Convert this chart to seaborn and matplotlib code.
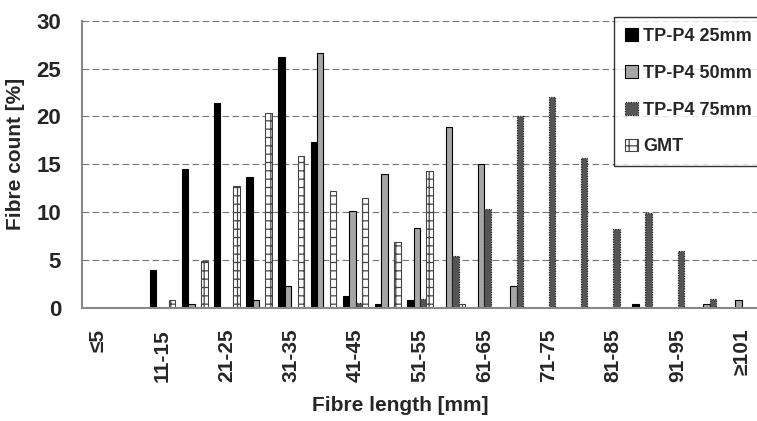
import pandas as pd
import matplotlib
matplotlib.use('Agg')
import matplotlib.pyplot as plt
import seaborn as sns
import numpy as np

# Fibre length classes and fibre counts [%]
categories = ['≤5', '6-10', '11-15', '16-20', '21-25', '26-30', '31-35', '36-40',
              '41-45', '46-50', '51-55', '56-60', '61-65', '66-70', '71-75',
              '76-80', '81-85', '86-90', '91-95', '96-100', '≥101']
series_names = ['TP-P4 25mm', 'TP-P4 50mm', 'TP-P4 75mm', 'GMT']

tp25 = [0, 0, 4.0, 14.5, 21.4, 13.7, 26.2, 17.3, 1.3, 0.4, 0.8, 0, 0, 0, 0, 0, 0, 0.4, 0, 0, 0]
tp50 = [0, 0, 0, 0.4, 0, 0.8, 2.3, 26.6, 10.1, 14.0, 8.4, 18.9, 15.0, 2.3, 0, 0, 0, 0, 0, 0.4, 0.8]
tp75 = [0, 0, 0, 0, 0, 0, 0, 0, 0.5, 0, 0.9, 5.4, 10.3, 20.1, 22.0, 15.7, 8.3, 9.9, 5.9, 0.9, 0]
gmt = [0, 0, 0.8, 4.9, 12.7, 20.4, 15.9, 12.2, 11.5, 6.9, 14.3, 0.4, 0, 0, 0, 0, 0, 0, 0, 0, 0]

yticks = [0, 5, 10, 15, 20, 25, 30]


def build_frame():
    rows = []
    for name, vals in zip(series_names, [tp25, tp50, tp75, gmt]):
        for c, v in zip(categories, vals):
            rows.append({'Length': c, 'Count': v, 'Series': name})
    return pd.DataFrame(rows)


def plot_fibre_length(df):
    sns.set_style('white')
    plt.rcParams['font.family'] = ['Liberation Sans', 'DejaVu Sans']
    plt.rcParams['font.weight'] = 'bold'
    plt.rcParams['hatch.linewidth'] = 0.9

    fig = plt.figure(figsize=(7.57, 4.21), dpi=100)
    ax = fig.add_axes([82 / 757, 1 - 308 / 421, 676 / 757, (308 - 20.7) / 421])

    sns.barplot(data=df, x='Length', y='Count', hue='Series', order=categories,
                hue_order=series_names, width=0.8, ax=ax, legend=False,
                palette=['black', '#a6a6a6', '#5c5c5c', 'white'])

    # style each series like the original Excel chart
    styles = [
        dict(facecolor='black', edgecolor='black', linewidth=0.8),
        dict(facecolor='#a6a6a6', edgecolor='black', linewidth=0.8),
        dict(facecolor='#555555', edgecolor='#222222', linewidth=0.9, linestyle=(0, (1, 1))),
        dict(facecolor='white', edgecolor='#444444', linewidth=0.8, hatch='++'),
    ]
    for cont, st in zip(ax.containers, styles):
        for p in cont:
            p.set(**st)

    ax.set_xlim(-0.5, len(categories) - 0.5)
    ax.set_ylim(0, 30)
    ax.set_yticks(yticks)
    ax.set_yticklabels([str(t) for t in yticks], fontsize=16, fontweight='bold')

    ax.set_xticks(np.arange(0, len(categories), 2))
    ax.set_xticklabels(categories[::2], rotation=90, fontsize=15, fontweight='bold', va='top')
    ax.set_xticks(np.arange(-0.5, len(categories), 1), minor=True)
    ax.tick_params(axis='x', which='major', length=0, pad=15)
    ax.tick_params(axis='x', which='minor', length=5, width=1, color='#888888', direction='out')
    ax.tick_params(axis='y', length=5, width=1, color='#888888', direction='out', pad=10)

    ax.yaxis.grid(True, linestyle=(0, (6, 3)), color='#777777', linewidth=0.8)
    ax.set_axisbelow(True)
    for s in ['top', 'right']:
        ax.spines[s].set_visible(False)
    for s in ['left', 'bottom']:
        ax.spines[s].set_color('#888888')
        ax.spines[s].set_linewidth(1.5)

    ax.set_xlabel('Fibre length [mm]', fontsize=15, fontweight='bold')
    ax.set_ylabel('Fibre count [%]', fontsize=15, fontweight='bold')
    ax.xaxis.set_label_coords((400 - 82) / 676, -(396 - 308) / 287.3)
    ax.yaxis.set_label_coords(-(82 - 25) / 676, (308 - 154) / 287.3)

    leg = ax.legend(ax.containers, series_names, loc='upper right',
                    bbox_to_anchor=(1.008, 1 - 17 / 421), bbox_transform=fig.transFigure,
                    fontsize=13, frameon=True, fancybox=False, edgecolor='black',
                    labelspacing=1.1, handlelength=0.7, handleheight=0.7,
                    handletextpad=0.3, borderpad=0.6, borderaxespad=0)
    leg.get_frame().set_linewidth(1.0)
    for t in leg.get_texts():
        t.set_fontweight('bold')

    fig.savefig('out.png', dpi=100)


def main():
    df = build_frame()
    plot_fibre_length(df)


if __name__ == "__main__":
    main()
